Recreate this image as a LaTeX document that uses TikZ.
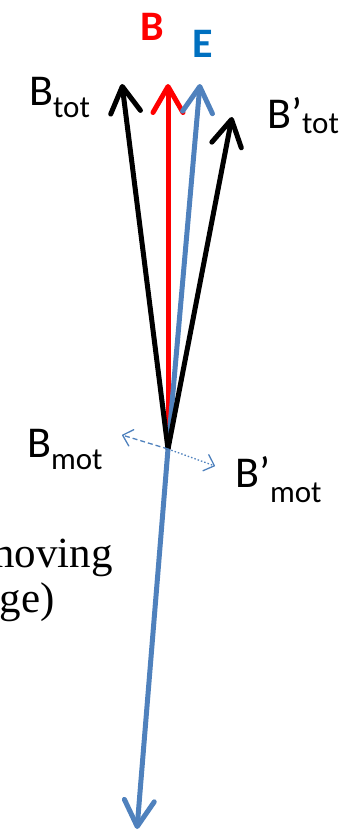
\documentclass[tikz,border=0pt]{standalone}
\usepackage{fontspec}
\setmainfont{Carlito}
\newfontfamily\serifo{Liberation Serif}
\usetikzlibrary{arrows.meta}
\definecolor{ejeazul}{RGB}{79,129,189}
\definecolor{etiqazul}{RGB}{0,112,192}
\tikzset{
  vec/.style={line width=5pt,-{Straight Barb[length=26pt,width=30pt,round]}},
  vecmot/.style={line width=1.3pt,ejeazul,-{Straight Barb[length=9pt,width=17pt,round]}},
  etiq/.style={inner sep=0pt,anchor=base west,font=\fontsize{44}{44}\selectfont}
}
\newcommand{\subi}[2]{\raisebox{-#1pt}{\fontsize{31}{31}\selectfont #2}}

\begin{document}
\begin{tikzpicture}[x=1pt,y=-1pt]
  % Marco
  \clip (0,0) rectangle (356,833);

  % Puntos
  \coordinate (O) at (168,449);
  \coordinate (Bt) at (122,84);
  \coordinate (B) at (168,84);
  \coordinate (E) at (200,84);
  \coordinate (Btp) at (232,117);
  \coordinate (Ed) at (137,829);
  \coordinate (Bm) at (122,435);
  \coordinate (Bmp) at (215,466);

  % Vectores B y E
  \draw[vec,red] (O) -- (B);
  \draw[vec,ejeazul] (O) -- (Ed);
  \draw[vec,ejeazul] (O) -- (E);
  \draw[vec,black] (O) -- (Bt);
  \draw[vec,black] (O) -- (Btp);

  % B_mot (dos sentidos)
  \draw[vecmot,dash pattern=on 5pt off 3pt] (O) -- (Bm);
  \draw[vecmot,dash pattern=on 1.5pt off 2pt] (O) -- (Bmp);

  % Etiquetas
  \node[etiq,red,font=\fontsize{42}{42}\selectfont\bfseries] (lB) at (140,40) {B};
  \node[etiq,etiqazul,font=\fontsize{42}{42}\selectfont\bfseries] (lE) at (192,57) {E};
  \node[etiq] (lBt) at (29,105) {B\subi{12}{tot}};
  \node[etiq] (lBtp) at (267,128) {B’\subi{5}{tot}};
  \node[etiq] (lBm) at (27,457) {B\subi{12}{mot}};
  \node[etiq] (lBmp) at (235,487) {B’\subi{15}{mot}};

  % Texto (cortado)
  \node[inner sep=0pt,anchor=base east,font=\serifo\fontsize{43}{43}\selectfont] (lmov) at (113,567) {moving};
  \node[inner sep=0pt,anchor=base east,font=\serifo\fontsize{43}{43}\selectfont] (lcar) at (55,612) {charge)};
\end{tikzpicture}
\end{document}
